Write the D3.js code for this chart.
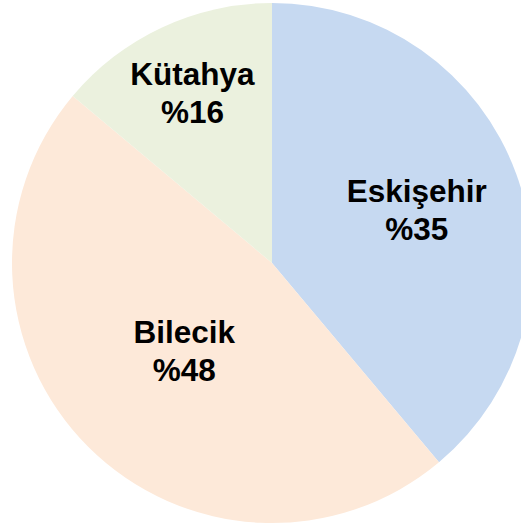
<!DOCTYPE html>
<html>
<head>
<meta charset="utf-8">
<script src="https://cdn.jsdelivr.net/npm/d3@7"></script>
<style>
  body { margin: 0; background: #fff; }
</style>
</head>
<body>
<div id="root"></div>
<script>
const cities = ['Eskişehir', 'Bilecik', 'Kütahya']
const shares = [38.9, 47.2, 13.9]
const labels = ['%35', '%48', '%16']
const colors = ['#c6d9f1', '#fde9d9', '#ebf1de']

const graph = {
  'width': 521,
  'height': 526,
  'cx': 272,
  'cy': 263,
  'r': 260
}
// distance of each label from the centre (Excel "best fit" spots)
const labelR = [154, 124, 188]

const rows = cities.map((c, i) => ({city: c, value: shares[i], label: labels[i], color: colors[i], lr: labelR[i]}))

const svg = d3.select('#root')
  .append('svg')
  .attr('width', graph.width)
  .attr('height', graph.height)

const g = svg.append('g')
  .attr('transform', `translate(${graph.cx}, ${graph.cy})`)

const pie = d3.pie().sort(null).value(d => d.value)
const arc = d3.arc().innerRadius(0).outerRadius(graph.r)
const arcs = pie(rows)

g.selectAll('path')
  .data(arcs)
  .join('path')
  .attr('d', arc)
  .attr('fill', d => d.data.color)

const lab = g.selectAll('text')
  .data(arcs)
  .join('text')
  .attr('transform', d => {
    const a = (d.startAngle + d.endAngle) / 2
    return `translate(${Math.sin(a) * d.data.lr}, ${-Math.cos(a) * d.data.lr})`
  })
  .attr('text-anchor', 'middle')
  .style('font-family', '"Liberation Sans", Arial, sans-serif')
  .style('font-weight', 'bold')
  .style('font-size', '31.5px')
  .attr('fill', '#000')

lab.append('tspan').attr('x', 0).attr('y', -8).text(d => d.data.city)
lab.append('tspan').attr('x', 0).attr('y', 30).text(d => d.data.label)
</script>
</body>
</html>
